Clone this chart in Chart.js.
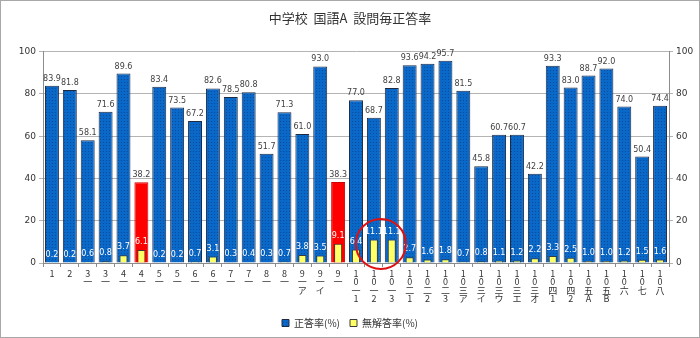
<!DOCTYPE html>
<html>
<head>
<meta charset="utf-8">
<script src="https://cdn.jsdelivr.net/npm/chart.js@4/dist/chart.umd.min.js"></script>
<style>
  html, body { margin: 0; padding: 0; background: #fff; }
  canvas { display: block; }
</style>
</head>
<body>
<canvas id="chart" width="700" height="338"></canvas>
<script>
// question numbers, drawn vertically (one character per line)
const questions = [
  ['1'], ['2'], ['3', '一'], ['3', '一'], ['4', '一'], ['4', '一'],
  ['5', '一'], ['5', '一'], ['6', '一'], ['6', '一'], ['7', '一'], ['7', '一'],
  ['8', '一'], ['8', '一'], ['9', '一', 'ア'], ['9', '一', 'イ'], ['9', '一'],
  ['1', '0', '一', '1'], ['1', '0', '一', '2'], ['1', '0', '一', '3'],
  ['1', '0', '二', '1'], ['1', '0', '二', '2'], ['1', '0', '二', '3'],
  ['1', '0', '三', 'ア'], ['1', '0', '三', 'イ'], ['1', '0', '三', 'ウ'],
  ['1', '0', '三', 'エ'], ['1', '0', '三', 'オ'],
  ['1', '0', '四', '1'], ['1', '0', '四', '2'],
  ['1', '0', '五', 'A'], ['1', '0', '五', 'B'],
  ['1', '0', '六'], ['1', '0', '七'], ['1', '0', '八']
];

const correctRate = [
  83.9, 81.8, 58.1, 71.6, 89.6, 38.2, 83.4, 73.5, 67.2, 82.6, 78.5, 80.8,
  51.7, 71.3, 61.0, 93.0, 38.3, 77.0, 68.7, 82.8, 93.6, 94.2, 95.7, 81.5,
  45.8, 60.7, 60.7, 42.2, 93.3, 83.0, 88.7, 92.0, 74.0, 50.4, 74.4
];

const noAnswerRate = [
  0.2, 0.2, 0.6, 0.8, 3.7, 6.1, 0.2, 0.2, 0.7, 3.1, 0.3, 0.4,
  0.3, 0.7, 3.8, 3.5, 9.1, 6.4, 11.1, 11.1, 2.7, 1.6, 1.8, 0.7,
  0.8, 1.1, 1.2, 2.2, 3.3, 2.5, 1.0, 1.0, 1.2, 1.5, 1.6
];

// questions shown in red (low correct rate)
const lowQuestions = [5, 16];
// questions circled (high no-answer rate)
const circledQuestions = [18, 19];

const yTicks = [0, 20, 40, 60, 80, 100];

const numFont = 'DejaVu Sans, Verdana, sans-serif';
const jpFont = '"Noto Sans CJK JP", sans-serif';

// dotted blue fill
function dotPattern() {
  const c = document.createElement('canvas');
  c.width = 3; c.height = 3;
  const g = c.getContext('2d');
  g.fillStyle = '#0a68c8';
  g.fillRect(0, 0, 3, 3);
  g.fillStyle = '#0a4c98';
  g.fillRect(1, 1, 1, 1);
  return g.createPattern(c, 'repeat');
}
const blue = dotPattern();

const barColors = correctRate.map((v, i) => lowQuestions.includes(i) ? '#ff0000' : blue);
const barBorders = correctRate.map((v, i) => lowQuestions.includes(i) ? '#d00000' : '#1c2a44');

const valueLabels = {
  id: 'valueLabels',
  afterDatasetsDraw(chart) {
    const ctx = chart.ctx;
    ctx.save();
    ctx.textAlign = 'center';
    ctx.textBaseline = 'bottom';
    ctx.font = '8px ' + numFont;
    chart.getDatasetMeta(0).data.forEach((bar, i) => {
      ctx.fillStyle = '#404040';
      ctx.fillText(correctRate[i].toFixed(1), bar.x, bar.y - 3);
    });
    chart.getDatasetMeta(1).data.forEach((bar, i) => {
      ctx.fillStyle = '#ffffff';
      ctx.fillText(noAnswerRate[i].toFixed(1), bar.x, bar.y - 4);
    });
    ctx.restore();
  }
};

const circleMark = {
  id: 'circleMark',
  afterDraw(chart) {
    const ctx = chart.ctx;
    const x = chart.scales.x;
    const y = chart.scales.y;
    const cx = (x.getPixelForValue(circledQuestions[0]) + x.getPixelForValue(circledQuestions[1])) / 2 - 2;
    const cy = y.getPixelForValue(9);
    ctx.save();
    ctx.strokeStyle = '#e01010';
    ctx.lineWidth = 2;
    ctx.beginPath();
    ctx.ellipse(cx, cy, 25, 25, 0, 0, Math.PI * 2);
    ctx.stroke();
    // outer frame
    ctx.strokeStyle = '#a8a8a8';
    ctx.lineWidth = 1;
    ctx.strokeRect(0.5, 0.5, chart.width - 1, chart.height - 1);
    ctx.restore();
  }
};

const yAxis = (position) => ({
  position: position,
  min: 0,
  max: 100,
  afterBuildTicks: s => { s.ticks = yTicks.map(v => ({ value: v })); },
  afterFit: s => { s.width = position === 'left' ? 43 : 31; },
  grid: {
    display: true,
    drawOnChartArea: position === 'left',
    color: '#b4b4b4',
    tickLength: 4
  },
  border: { color: '#8c8c8c' },
  ticks: { color: '#333', font: { family: numFont, size: 9 }, padding: 3 }
});

new Chart(document.getElementById('chart'), {
  type: 'bar',
  data: {
    labels: questions,
    datasets: [
      {
        label: '正答率(%)',
        data: correctRate,
        backgroundColor: barColors,
        borderColor: barBorders,
        borderWidth: 1,
        barPercentage: 0.78,
        categoryPercentage: 1,
        grouped: false,
        order: 1
      },
      {
        label: '無解答率(%)',
        data: noAnswerRate,
        backgroundColor: '#ffff66',
        borderColor: '#3a3a3a',
        borderWidth: 1,
        barPercentage: 0.45,
        categoryPercentage: 1,
        grouped: false,
        order: 0
      }
    ]
  },
  options: {
    responsive: false,
    animation: false,
    layout: { padding: 0 },
    plugins: {
      title: {
        display: true,
        text: '中学校  国語A  設問毎正答率',
        color: '#333',
        font: { family: jpFont, size: 13, weight: 'normal', lineHeight: 1.2 },
        padding: { top: 10, bottom: 26 }
      },
      legend: {
        position: 'bottom',
        labels: {
          boxWidth: 7,
          boxHeight: 7,
          color: '#333',
          padding: 10,
          font: { family: jpFont, size: 10 },
          sort: (a, b) => a.datasetIndex - b.datasetIndex
        }
      },
      tooltip: { enabled: false }
    },
    scales: {
      x: {
        afterFit: s => { s.height = 45; },
        grid: {
          display: true,
          drawOnChartArea: false,
          offset: true,
          color: '#8c8c8c',
          tickLength: 4
        },
        border: { color: '#8c8c8c' },
        ticks: {
          autoSkip: false,
          maxRotation: 0,
          color: '#333',
          padding: 2,
          font: { family: jpFont, size: 9, lineHeight: 0.95 }
        }
      },
      y: yAxis('left'),
      y2: yAxis('right')
    }
  },
  plugins: [valueLabels, circleMark]
});
</script>
</body>
</html>
